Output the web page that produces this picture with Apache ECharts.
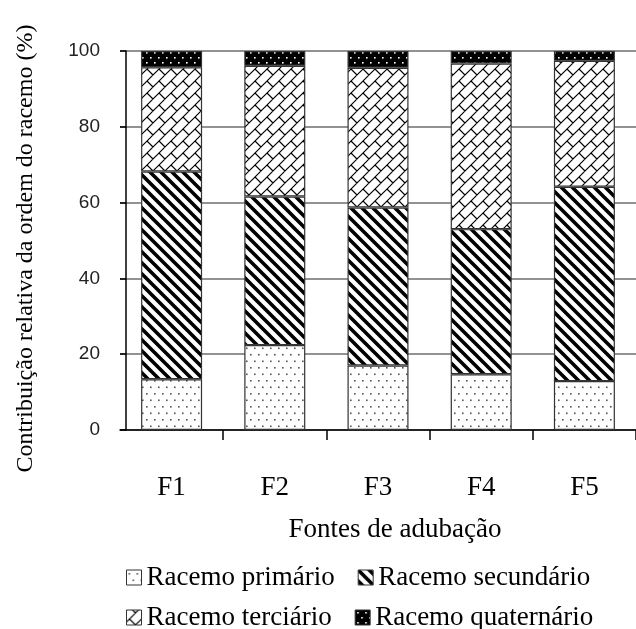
<!DOCTYPE html>
<html>
<head>
<meta charset="utf-8">
<script src="https://cdn.jsdelivr.net/npm/echarts@6/dist/echarts.min.js"></script>
<style>
  html, body { margin: 0; padding: 0; background: #fff; }
  #chart { width: 636px; height: 629px; }
</style>
</head>
<body>
<div id="chart"></div>
<script>
// Fertilizer sources on the x axis
const categories = ['F1', 'F2', 'F3', 'F4', 'F5'];

// Relative share (%) of each raceme order, stacked bottom to top
const primario    = [13.4, 22.4, 17.0, 14.7, 12.9];
const secundario  = [54.8, 39.2, 41.7, 38.3, 51.3];
const terciario   = [27.5, 34.5, 36.9, 43.7, 33.2];
const quaternario = [4.3, 3.9, 4.4, 3.3, 2.6];

const seriesNames = ['Racemo primário', 'Racemo secundário', 'Racemo terciário', 'Racemo quaternário'];
const yTicks = [0, 20, 40, 60, 80, 100];

// ---- fill patterns (small canvas tiles repeated inside the bars) ----
function tile(w, h, draw) {
  const c = document.createElement('canvas');
  c.width = w; c.height = h;
  const ctx = c.getContext('2d');
  draw(ctx, w, h);
  return { image: c, repeat: 'repeat' };
}

// sparse grey dots on white
const dotFill = tile(8, 13, (ctx, w, h) => {
  ctx.fillStyle = '#fff'; ctx.fillRect(0, 0, w, h);
  ctx.fillStyle = '#555';
  ctx.fillRect(2, 3, 1.6, 1.6);
  ctx.fillRect(6, 9.5, 1.6, 1.6);
});

// thick black "\" stripes
const stripeFill = tile(11, 11, (ctx, w, h) => {
  ctx.fillStyle = '#fff'; ctx.fillRect(0, 0, w, h);
  ctx.strokeStyle = '#000'; ctx.lineWidth = 3.6; ctx.lineCap = 'square';
  ctx.beginPath();
  ctx.moveTo(-2, -2); ctx.lineTo(w + 2, h + 2);
  ctx.moveTo(-2, h - 2); ctx.lineTo(2, h + 2);
  ctx.moveTo(w - 2, -2); ctx.lineTo(w + 2, 2);
  ctx.stroke();
});

// "/" lines joined by short staggered "\" links (brick weave)
const weaveFill = tile(12, 12, (ctx, w, h) => {
  ctx.fillStyle = '#fff'; ctx.fillRect(0, 0, w, h);
  ctx.strokeStyle = '#000'; ctx.lineWidth = 1.2;
  ctx.beginPath();
  ctx.moveTo(-2, h + 2); ctx.lineTo(w + 2, -2);
  ctx.moveTo(-2, 2); ctx.lineTo(2, -2);
  ctx.moveTo(w - 2, h + 2); ctx.lineTo(w + 2, h - 2);
  ctx.moveTo(3, 9); ctx.lineTo(9, 15);
  ctx.moveTo(3, -3); ctx.lineTo(9, 3);
  ctx.stroke();
});

// black with small white dots
const darkFill = tile(8, 10, (ctx, w, h) => {
  ctx.fillStyle = '#000'; ctx.fillRect(0, 0, w, h);
  ctx.fillStyle = '#fff';
  ctx.fillRect(2, 2, 1.6, 1.6);
  ctx.fillRect(6, 7, 1.6, 1.6);
});

const fills = [dotFill, stripeFill, weaveFill, darkFill];
const values = [primario, secundario, terciario, quaternario];

const serifFont = '"Liberation Serif", "Times New Roman", serif';
const sansFont = '"Liberation Sans", Arial, sans-serif';

const chart = echarts.init(document.getElementById('chart'), null, { renderer: 'canvas' });

chart.setOption({
  animation: false,
  backgroundColor: '#fff',
  grid: { left: 120, right: -7, top: 51, bottom: 199, containLabel: false },
  legend: {
    data: seriesNames,
    icon: 'rect',
    orient: 'horizontal',
    left: 121, top: 559, width: 500,
    itemGap: 13,
    itemWidth: 15, itemHeight: 15,
    itemStyle: { borderColor: '#333', borderWidth: 1 },
    textStyle: { fontFamily: serifFont, fontSize: 27, color: '#000', lineHeight: 27, padding: [0, 10, 0, 0] }
  },
  xAxis: {
    type: 'category',
    data: categories,
    name: 'Fontes de adubação',
    nameLocation: 'middle',
    nameGap: 86,
    nameTextStyle: { fontFamily: serifFont, fontSize: 27, color: '#000', padding: [0, 0, 0, 34] },
    axisLine: { lineStyle: { color: '#000', width: 1.5 } },
    axisTick: { show: true, length: 10, interval: (i) => i !== 0, lineStyle: { color: '#000', width: 1.5 } },
    axisLabel: { fontFamily: serifFont, fontSize: 27, color: '#000', margin: 44 },
    splitLine: { show: false }
  },
  yAxis: {
    type: 'value',
    min: 0, max: 100, interval: 20,
    offset: -6,
    name: 'Contribuição relativa da ordem do racemo (%)',
    nameLocation: 'middle',
    nameGap: 88,
    nameTextStyle: { fontFamily: serifFont, fontSize: 24, color: '#000', padding: [0, 16, 0, 0] },
    axisLine: { show: true, lineStyle: { color: '#000', width: 1.5 } },
    axisTick: { show: true, length: 6, lineStyle: { color: '#000', width: 1.5 } },
    axisLabel: {
      fontFamily: sansFont, fontSize: 19, color: '#222', margin: 26,
      formatter: v => (yTicks.indexOf(v) >= 0 ? String(v) : '')
    },
    splitLine: { show: true, lineStyle: { color: '#6e6e6e', width: 1.5 } }
  },
  series: seriesNames.map((name, i) => ({
    name,
    type: 'bar',
    stack: 'total',
    barWidth: 61,
    data: values[i],
    itemStyle: { color: fills[i], borderColor: '#333', borderWidth: 1.2 },
    emphasis: { disabled: true }
  }))
});
</script>
</body>
</html>
